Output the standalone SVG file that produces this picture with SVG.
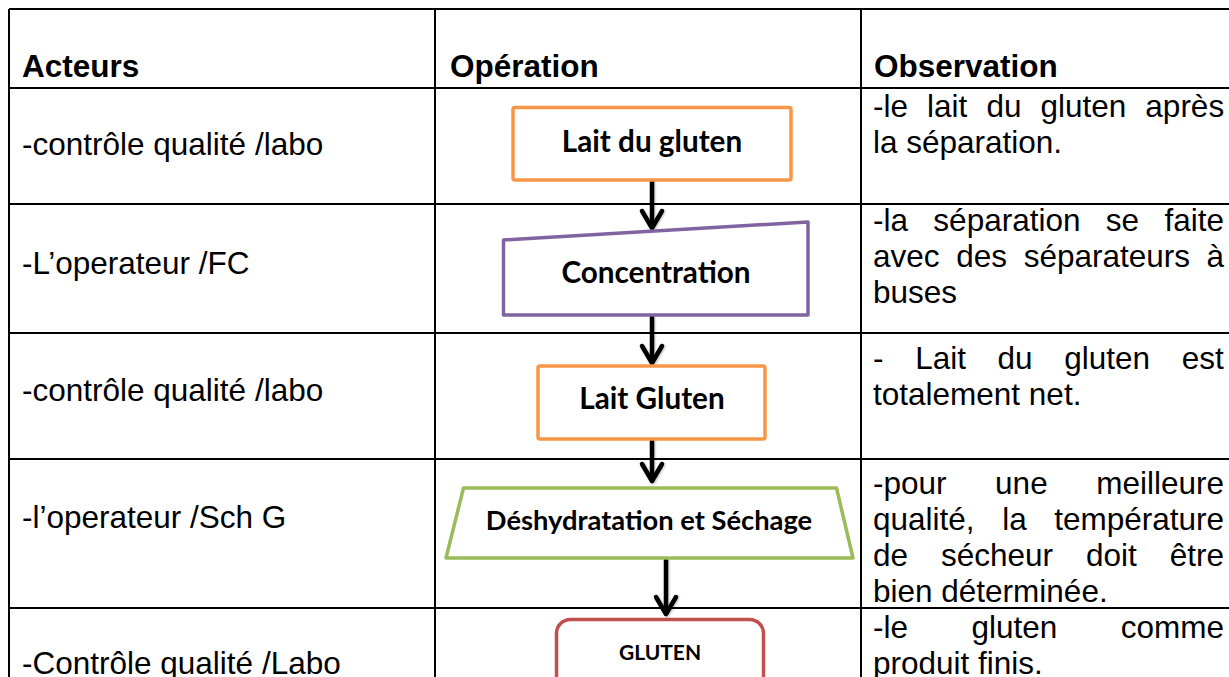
<svg xmlns="http://www.w3.org/2000/svg" width="1229" height="677" viewBox="0 0 1229 677">
  <style>
    .grid { stroke: #000; stroke-width: 2; fill: none; }
    .hd { font-family: "Liberation Sans", Arial, sans-serif; font-size: 31.5px; font-weight: bold; fill: #000; }
    .tx { font-family: "Liberation Sans", Arial, sans-serif; font-size: 31.5px; fill: #000; }
    .lbl { font-family: Lato, "Open Sans", sans-serif; font-weight: bold; font-size: 29.7px; fill: #000; text-anchor: middle; }
    .shape { fill: #fff; stroke-width: 3.5; stroke-linejoin: round; }
    .orange { stroke: #F79646; }
    .purple { stroke: #8064A2; }
    .green { stroke: #9BBB59; }
    .red { stroke: #C0504D; }
    .conn { stroke: #000; stroke-width: 4.5; fill: none; marker-end: url(#chev); }
  </style>
  <defs>
    <marker id="chev" markerUnits="userSpaceOnUse" orient="auto" refX="0" refY="0" markerWidth="40" markerHeight="40" viewBox="-20 -20 40 40" overflow="visible">
      <path d="M -17 -10 L 0 0 L -17 10" fill="none" stroke="#000" stroke-width="4.5" stroke-linejoin="round" stroke-linecap="round"/>
    </marker>
    <filter id="soft" filterUnits="userSpaceOnUse" x="0" y="0" width="1229" height="677">
      <feDropShadow dx="1" dy="1" stdDeviation="1.2" flood-color="#000" flood-opacity="0.25"/>
    </filter>
  </defs>

  <!-- table rules -->
  <g id="table" class="grid">
    <line x1="9" y1="9" x2="1229" y2="9"/>
    <line x1="9" y1="88" x2="1229" y2="88"/>
    <line x1="9" y1="204" x2="1229" y2="204"/>
    <line x1="9" y1="333" x2="1229" y2="333"/>
    <line x1="9" y1="459" x2="1229" y2="459"/>
    <line x1="9" y1="608" x2="1229" y2="608"/>
    <line x1="9" y1="9" x2="9" y2="677"/>
    <line x1="435" y1="9" x2="435" y2="677"/>
    <line x1="861" y1="9" x2="861" y2="677"/>
  </g>

  <!-- column headings -->
  <g id="headers">
    <text class="hd" x="22" y="77">Acteurs</text>
    <text class="hd" x="450" y="77">Opération</text>
    <text class="hd" x="874" y="77">Observation</text>
  </g>

  <!-- actors -->
  <g id="actors">
    <text class="tx" x="22" y="155">-contrôle qualité /labo</text>
    <text class="tx" x="22" y="274">-L’operateur /FC</text>
    <text class="tx" x="22" y="401">-contrôle qualité /labo</text>
    <text class="tx" x="22" y="528">-l’operateur /Sch G</text>
    <text class="tx" x="22" y="674">-Contrôle qualité /Labo</text>
  </g>

  <!-- observations (justified lines use word-spacing) -->
  <g id="observations">
    <text class="tx" x="873" y="117" word-spacing="10.3">-le lait du gluten après</text>
    <text class="tx" x="873" y="153">la séparation.</text>

    <text class="tx" x="873" y="231" word-spacing="16.6">-la séparation se faite</text>
    <text class="tx" x="873" y="267" word-spacing="7.9">avec des séparateurs à</text>
    <text class="tx" x="873" y="303">buses</text>

    <text class="tx" x="873" y="369" word-spacing="22.9">- Lait du gluten est</text>
    <text class="tx" x="873" y="405">totalement net.</text>

    <text class="tx" x="873" y="494" word-spacing="39.8">-pour une meilleure</text>
    <text class="tx" x="873" y="530" word-spacing="18.8">qualité, la température</text>
    <text class="tx" x="873" y="566" word-spacing="24.2">de sécheur doit être</text>
    <text class="tx" x="873" y="602">bien déterminée.</text>

    <text class="tx" x="873" y="638" word-spacing="54.7">-le gluten comme</text>
    <text class="tx" x="873" y="674">produit finis.</text>
  </g>

  <!-- flow connectors -->
  <g id="connectors" filter="url(#soft)">
    <line class="conn" x1="652" y1="180" x2="652" y2="228"/>
    <line class="conn" x1="652" y1="316" x2="652" y2="363"/>
    <line class="conn" x1="652" y1="440" x2="652" y2="481"/>
    <line class="conn" x1="666" y1="559" x2="666" y2="614"/>
  </g>

  <!-- process steps -->
  <g id="step-lait-du-gluten">
    <rect class="shape orange" x="513" y="107.5" width="278" height="72.5" rx="2"/>
    <text class="lbl" x="652" y="152">Lait du gluten</text>
  </g>
  <g id="step-concentration">
    <polygon class="shape purple" points="503.5,240 808,222 808,315 503.5,315"/>
    <text class="lbl" x="656" y="283">Concentration</text>
  </g>
  <g id="step-lait-gluten">
    <rect class="shape orange" x="538" y="366" width="227" height="73" rx="2"/>
    <text class="lbl" x="652" y="408.5">Lait Gluten</text>
  </g>
  <g id="step-deshydratation">
    <polygon class="shape green" points="463.5,488 836.5,488 853,558 446,558"/>
    <text class="lbl" x="649" y="530" style="font-size:27.3px">Déshydratation et Séchage</text>
  </g>
  <g id="step-gluten">
    <rect class="shape red" x="556.5" y="619.5" width="207" height="90" rx="14"/>
    <text class="lbl" x="660" y="660" style="font-size:21px">GLUTEN</text>
  </g>
</svg>
